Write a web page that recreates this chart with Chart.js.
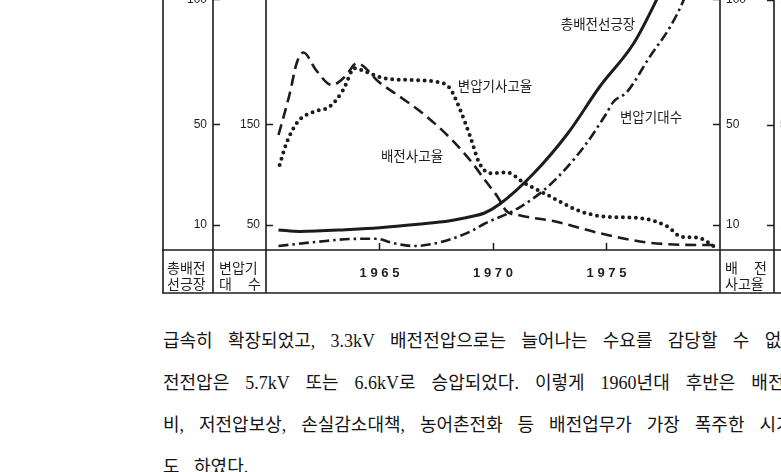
<!DOCTYPE html>
<html>
<head>
<meta charset="utf-8">
<script src="https://cdn.jsdelivr.net/npm/chart.js@4.4.0/dist/chart.umd.min.js"></script>
<style>
html,body{margin:0;padding:0;width:781px;height:472px;overflow:hidden;background:#fff;}
body{position:relative;}
#wrap{position:absolute;left:162px;top:-10px;width:680px;height:304px;}
canvas{display:block;}
.ann{position:absolute;font-family:"Noto Sans CJK KR";font-size:13.5px;line-height:14px;color:#1e1e1e;white-space:nowrap;transform:translate(-50%,-50%);}
.band{position:absolute;font-family:"Noto Sans CJK KR";font-size:14px;line-height:16px;color:#1e1e1e;width:42px;}
.band div{text-align:justify;text-align-last:justify;white-space:nowrap;}
.para{position:absolute;left:163px;font-family:"Liberation Serif","Noto Sans CJK KR";font-size:18px;line-height:18px;color:#141414;white-space:pre;}
</style>
</head>
<body>
<div id="wrap"><canvas id="c" width="680" height="304"></canvas></div>

<div class="ann" style="left:598px;top:23px;">총배전선긍장</div>
<div class="ann" style="left:495px;top:85px;">변압기사고율</div>
<div class="ann" style="left:651px;top:116px;">변압기대수</div>
<div class="ann" style="left:412px;top:155px;">배전사고율</div>

<div class="band" style="left:167px;top:259px;"><div>총배전</div><div>선긍장</div></div>
<div class="band" style="left:219px;top:259px;"><div>변압기</div><div>대 수</div></div>
<div class="band" style="left:725px;top:259px;"><div>배 전</div><div>사고율</div></div>

<div class="para" style="top:332px;word-spacing:10.8px;">급속히 확장되었고, 3.3kV 배전전압으로는 늘어나는 수요를 감당할 수 없</div>
<div class="para" style="top:374px;word-spacing:11.5px;">전전압은 5.7kV 또는 6.6kV로 승압되었다. 이렇게 1960년대 후반은 배전설</div>
<div class="para" style="top:416px;word-spacing:10.4px;">비, 저전압보상, 손실감소대책, 농어촌전화 등 배전업무가 가장 폭주한 시기</div>
<div class="para" style="top:458px;word-spacing:10px;">도 하였다.</div>

<script>
// ---- tick values ----
const xTickYears = [1965, 1970, 1975];
const ticksLength = [10, 50, 100];       // 총배전선긍장 (left, outer)
const ticksTransformers = [50, 150];     // 변압기대수 (left, inner)
const ticksDistFault = [10, 50, 100];    // 배전사고율 (right, inner)
const ticksTrFault = [1, 5, 10];         // 변압기사고율 (right, outer)

// ---- 총배전선긍장 (solid) ----
const lengthYears  = [1960.55, 1961.5, 1963.7, 1965.0, 1966.7, 1968.1, 1969.0, 1969.6, 1970.3, 1971.8, 1973.3, 1974.7, 1976.2, 1977.2, 1977.8];
const lengthValues = [8.0, 7.4, 8.2, 8.9, 10.3, 11.7, 13.3, 14.7, 18.4, 30.7, 46.7, 65.3, 82.7, 100, 112];

// ---- 변압기대수 (dash-dot) ----
const transYears  = [1960.55, 1962.3, 1963.7, 1964.9, 1965.5, 1966.5, 1967.8, 1969.0, 1969.6, 1971.1, 1972.5, 1974.0, 1975.0, 1975.3, 1975.9, 1976.9, 1977.8, 1978.4, 1978.8];
const transValues = [29, 33.3, 36, 36.3, 32.5, 29, 33.5, 43.5, 51, 66.7, 90, 128, 161.7, 173, 183, 218, 248, 275, 300];

// ---- 배전사고율 (dashed) ----
const distYears  = [1960.55, 1961.05, 1961.35, 1961.65, 1962.2, 1962.9, 1963.5, 1964.0, 1965.0, 1965.9, 1966.9, 1968.2, 1969.1, 1969.6, 1970.2, 1970.6, 1971.1, 1972.8, 1974.7, 1976.9, 1979.6, 1979.95];
const distValues = [46, 62.7, 74.7, 79, 72, 66, 69.5, 74.7, 67, 61.3, 54.7, 44, 34.7, 28.5, 21.3, 15.5, 14, 11.3, 6.7, 2.9, 2.0, 2.6];

// ---- 변압기사고율 (dotted) ----
const trFaultYears  = [1960.6, 1960.9, 1961.4, 1962.1, 1962.8, 1963.4, 1963.9, 1964.4, 1965.2, 1966.3, 1967.5, 1968.1, 1968.5, 1969.0, 1969.4, 1969.9, 1970.6, 1971.4, 1972.4, 1973.9, 1975.0, 1976.5, 1977.7, 1978.3, 1979.0, 1979.9];
const trFaultValues = [3.4, 4.27, 5.13, 5.53, 5.73, 6.4, 7.27, 7.13, 6.87, 6.8, 6.73, 6.47, 5.73, 4.53, 3.47, 3.07, 3.1, 2.67, 2.2, 1.53, 1.33, 1.27, 0.93, 0.53, 0.5, 0.05];

const pts = (xs, ys) => xs.map((x, i) => ({x, y: ys[i]}));
const INK = '#1c1c1c';

function yAxis(pos, min, max, ticks, width) {
  return {
    type: 'linear', position: pos, min, max,
    afterBuildTicks: s => { s.ticks = ticks.map(v => ({value: v})); },
    afterFit: s => { s.width = width; s.paddingTop = 0; s.paddingBottom = 0; },
    border: {display: false},
    grid: {drawOnChartArea: false, drawTicks: true, tickLength: -7, tickColor: INK, tickWidth: 1.5},
    ticks: {padding: 13, color: '#1e1e1e', font: {family: 'Liberation Sans', size: 12}}
  };
}

const framePlugin = {
  id: 'frame',
  afterDraw(chart) {
    const {ctx, chartArea, scales} = chart;
    const W = chart.width, H = chart.height;
    ctx.save();
    ctx.strokeStyle = INK;
    ctx.lineWidth = 1.6;
    const xs = [1, scales.y1.right, chartArea.left, chartArea.right, scales.y3.right];
    ctx.beginPath();
    xs.forEach(x => { ctx.moveTo(x, 0); ctx.lineTo(x, H - 1); });
    ctx.moveTo(0, chartArea.bottom); ctx.lineTo(W, chartArea.bottom);
    ctx.moveTo(0, H - 1); ctx.lineTo(W, H - 1);
    ctx.stroke();
    ctx.restore();
  }
};

const common = {pointRadius: 0, fill: false, cubicInterpolationMode: 'monotone', borderColor: INK};

new Chart(document.getElementById('c'), {
  type: 'line',
  data: {
    datasets: [
      {...common, label: '총배전선긍장', data: pts(lengthYears, lengthValues), yAxisID: 'y1', borderWidth: 3},
      {...common, label: '변압기대수', data: pts(transYears, transValues), yAxisID: 'y2', borderWidth: 2.6, borderDash: [10, 4, 2.5, 4]},
      {...common, label: '배전사고율', data: pts(distYears, distValues), yAxisID: 'y3', borderWidth: 2.6, borderDash: [11, 6]},
      {...common, label: '변압기사고율', data: pts(trFaultYears, trFaultValues), yAxisID: 'y4', borderWidth: 4, borderDash: [0, 6.5], borderCapStyle: 'round'}
    ]
  },
  options: {
    responsive: false,
    devicePixelRatio: 1,
    animation: false,
    layout: {padding: 0},
    plugins: {legend: {display: false}, tooltip: {enabled: false}},
    scales: {
      x: {
        type: 'linear', position: 'bottom', min: 1960, max: 1980,
        afterBuildTicks: s => { s.ticks = xTickYears.map(v => ({value: v})); },
        afterFit: s => { s.height = 44; s.paddingLeft = 0; s.paddingRight = 0; },
        border: {display: false},
        grid: {drawOnChartArea: false, tickLength: -7, tickColor: INK, tickWidth: 1.5},
        ticks: {padding: 23, maxRotation: 0, color: '#1e1e1e', font: {family: 'Liberation Sans', size: 13, weight: 'bold'},
                callback: v => String(v).split('').join(' ')}
      },
      y2: yAxis('left', 25, 285, ticksTransformers, 53),
      y1: yAxis('left', 0, 104, ticksLength, 51),
      y3: yAxis('right', 0, 104, ticksDistFault, 54),
      y4: yAxis('right', 0, 10.4, ticksTrFault, 68)
    }
  },
  plugins: [framePlugin]
});
</script>
</body>
</html>
